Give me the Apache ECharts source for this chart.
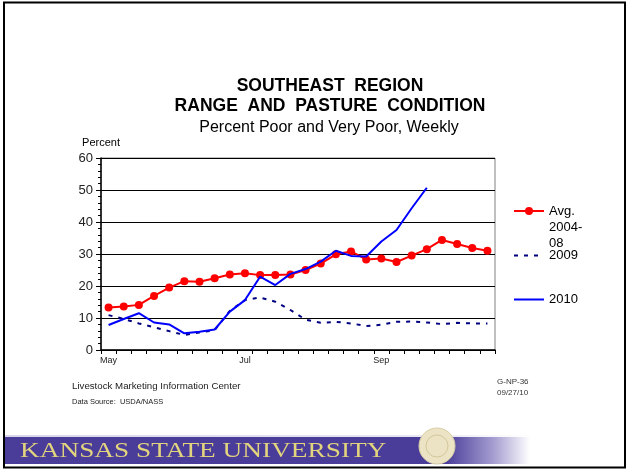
<!DOCTYPE html>
<html>
<head>
<meta charset="utf-8">
<script src="https://cdn.jsdelivr.net/npm/echarts@6/dist/echarts.min.js"></script>
<style>
  html, body { margin: 0; padding: 0; background: #fff; }
  #main { width: 629px; height: 471px; }
</style>
</head>
<body>
<div id="main"></div>
<script>
// weekly readings, May through late October 2010
const weeks = ['May 2', 'May 9', 'May 16', 'May 23', 'May 30', 'Jun 6', 'Jun 13', 'Jun 20', 'Jun 27',
  'Jul 4', 'Jul 11', 'Jul 18', 'Jul 25', 'Aug 1', 'Aug 8', 'Aug 15', 'Aug 22', 'Aug 29',
  'Sep 5', 'Sep 12', 'Sep 19', 'Sep 26', 'Oct 3', 'Oct 10', 'Oct 17', 'Oct 24'];
// only these weeks get a month label
const monthLabels = { 0: 'May', 9: 'Jul', 18: 'Sep' };

const avg0408 = [13.3, 13.6, 14.1, 16.9, 19.5, 21.5, 21.3, 22.4, 23.6, 24.0, 23.4, 23.4, 23.6,
  25.0, 27.0, 29.9, 30.8, 28.3, 28.6, 27.5, 29.5, 31.5, 34.4, 33.1, 31.9, 31.0];
const y2009 = [10.9, 9.7, 8.3, 7.1, 5.9, 4.7, 5.5, 6.2, 12.2, 15.6, 16.4, 15.1, 12.5,
  9.5, 8.5, 8.8, 8.3, 7.5, 7.9, 8.8, 8.9, 8.6, 8.1, 8.5, 8.3, 8.3];
const y2010 = [7.8, 9.7, 11.5, 8.6, 8.0, 5.2, 5.7, 6.4, 12.0, 15.6, 22.9, 20.3, 23.8,
  25.3, 27.6, 31.0, 29.4, 29.2, 33.9, 37.5, 44.3, 50.7];

const yTicks = [0, 10, 20, 30, 40, 50, 60];

const FONT = '"Liberation Sans", Arial, sans-serif';

let chart = echarts.init(document.getElementById('main'));

let options = {
  backgroundColor: '#fff',
  animation: false,
  textStyle: { fontFamily: FONT, color: '#000' },
  grid: {
    left: 101,
    right: 134,
    top: 158,
    bottom: 121,
    show: true,
    borderColor: '#808080',
    borderWidth: 1
  },
  xAxis: {
    type: 'category',
    data: weeks,
    boundaryGap: true,
    axisLine: { lineStyle: { color: '#000', width: 1.5 } },
    axisTick: { show: true, interval: 0, length: 4, lineStyle: { color: '#000' } },
    axisLabel: {
      interval: 0,
      fontSize: 9,
      color: '#222',
      margin: 6,
      formatter: function (v, i) { return monthLabels[i] || ''; }
    }
  },
  yAxis: {
    type: 'value',
    min: yTicks[0],
    max: yTicks[yTicks.length - 1],
    interval: 10,
    name: 'Percent',
    nameLocation: 'end',
    nameGap: 10,
    nameTextStyle: { fontSize: 11, color: '#000' },
    axisLine: { show: true, lineStyle: { color: '#000', width: 1.5 } },
    axisTick: { show: true, length: 5, lineStyle: { color: '#000' } },
    minorTick: { show: true, splitNumber: 5, length: 3, lineStyle: { color: '#000' } },
    axisLabel: { fontSize: 13, color: '#222', margin: 8 },
    splitLine: { show: true, lineStyle: { color: '#000', width: 1 } }
  },
  legend: [
    {
      data: ['Avg. 2004-08'],
      left: 513, top: 171,
      padding: 0,
      itemWidth: 30, itemHeight: 10,
      // two blank lines on top keep the marker level with "Avg."
      formatter: function () { return '\n\nAvg.\n2004-\n08'; },
      textStyle: { fontSize: 13, color: '#000', lineHeight: 16 }
    },
    {
      data: ['2009'],
      left: 513, top: 249,
      padding: 0,
      itemWidth: 30, itemHeight: 10,
      itemStyle: { opacity: 0 },
      textStyle: { fontSize: 13, color: '#000' }
    },
    {
      data: ['2010'],
      left: 513, top: 293,
      padding: 0,
      itemWidth: 30, itemHeight: 10,
      itemStyle: { opacity: 0 },
      textStyle: { fontSize: 13, color: '#000' }
    }
  ],
  series: [
    {
      name: 'Avg. 2004-08',
      type: 'line',
      data: avg0408,
      symbol: 'circle',
      symbolSize: 8,
      itemStyle: { color: '#ff0000' },
      lineStyle: { color: '#ff0000', width: 2 },
      z: 3
    },
    {
      name: '2009',
      type: 'line',
      data: y2009,
      symbol: 'none',
      itemStyle: { color: '#000080' },
      lineStyle: { color: '#000080', width: 2, type: [4, 6] },
      z: 2
    },
    {
      name: '2010',
      type: 'line',
      data: y2010,
      symbol: 'none',
      itemStyle: { color: '#0000ff' },
      lineStyle: { color: '#0000ff', width: 2 },
      z: 4
    }
  ],
  graphic: [
    // slide frame
    {
      type: 'rect', z: 0,
      shape: { x: 4, y: 2.5, width: 621, height: 465 },
      style: { fill: 'none', stroke: '#000', lineWidth: 2 }
    },
    {
      type: 'text', x: 330, y: 86,
      style: { text: 'SOUTHEAST  REGION', font: 'bold 17.5px ' + FONT, fill: '#000', align: 'center', verticalAlign: 'middle' }
    },
    {
      type: 'text', x: 330, y: 106,
      style: { text: 'RANGE  AND  PASTURE  CONDITION', font: 'bold 17.5px ' + FONT, fill: '#000', align: 'center', verticalAlign: 'middle' }
    },
    {
      type: 'text', x: 329, y: 128,
      style: { text: 'Percent Poor and Very Poor, Weekly', font: '16px ' + FONT, fill: '#000', align: 'center', verticalAlign: 'middle' }
    },
    {
      type: 'text', x: 72, y: 386,
      style: { text: 'Livestock Marketing Information Center', font: '9.7px ' + FONT, fill: '#222', verticalAlign: 'middle' }
    },
    {
      type: 'text', x: 72, y: 402,
      style: { text: 'Data Source:  USDA/NASS', font: '7.5px ' + FONT, fill: '#222', verticalAlign: 'middle' }
    },
    {
      type: 'text', x: 497, y: 382,
      style: { text: 'G-NP-36', font: '8px ' + FONT, fill: '#333', verticalAlign: 'middle' }
    },
    {
      type: 'text', x: 497, y: 393,
      style: { text: '09/27/10', font: '8px ' + FONT, fill: '#333', verticalAlign: 'middle' }
    },
    // university banner
    {
      type: 'rect',
      shape: { x: 5, y: 435, width: 525, height: 2 },
      style: {
        fill: new echarts.graphic.LinearGradient(0, 0, 1, 0, [
          { offset: 0, color: '#d8d6ea' }, { offset: 0.8, color: '#e8e6f2' }, { offset: 1, color: '#ffffff' }
        ])
      }
    },
    {
      type: 'rect',
      shape: { x: 5, y: 437, width: 525, height: 27 },
      style: {
        fill: new echarts.graphic.LinearGradient(0, 0, 1, 0, [
          { offset: 0, color: '#4a3d9a' },
          { offset: 0.84, color: '#4a3d9a' },
          { offset: 0.93, color: '#a49dd0' },
          { offset: 1, color: '#ffffff' }
        ])
      }
    },
    {
      type: 'text', x: 20, y: 451, scaleX: 1.3,
      style: { text: 'KANSAS STATE UNIVERSITY', font: '21px "Liberation Serif", "DejaVu Serif", serif', fill: '#e3d47e', verticalAlign: 'middle' }
    },
    {
      type: 'circle',
      shape: { cx: 437, cy: 446, r: 18 },
      style: { fill: '#ebe3c4', stroke: '#d8cfa6', lineWidth: 1 }
    },
    {
      type: 'circle',
      shape: { cx: 437, cy: 446, r: 11 },
      style: { fill: 'none', stroke: '#d3c79b', lineWidth: 1 }
    }
  ]
};

chart.setOption(options);
window.onresize = function () { chart.resize(); };
</script>
</body>
</html>
